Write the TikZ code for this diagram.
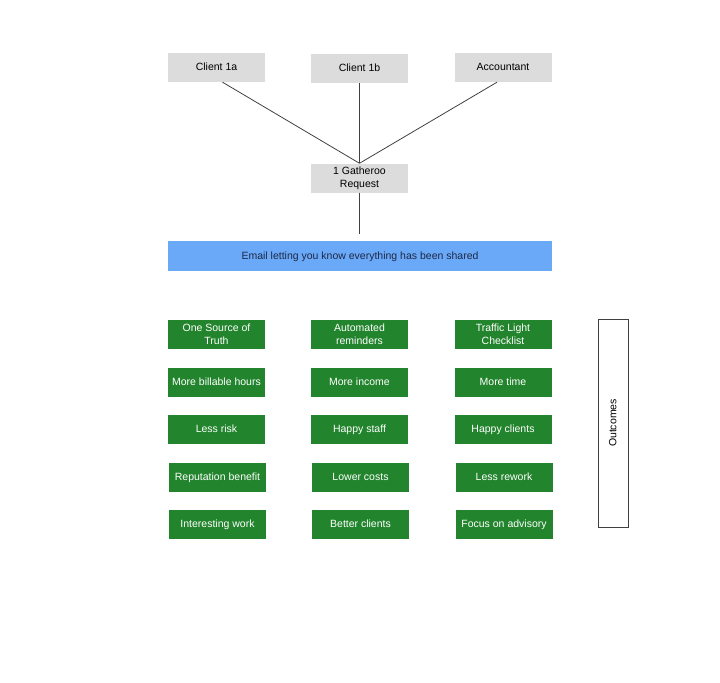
\documentclass[tikz,border=0pt]{standalone}
\usepackage{fontspec}
\setmainfont{Liberation Sans}
\usepackage{tikz}

\definecolor{boxgray}{RGB}{220,220,220}
\definecolor{mailblue}{RGB}{106,169,247}
\definecolor{goodgreen}{RGB}{34,132,44}
\definecolor{textnavy}{RGB}{30,40,70}

\begin{document}
\begin{tikzpicture}[x=1bp, y=-1bp,
    every node/.style={font=\fontsize{10.5bp}{13bp}\selectfont, inner sep=0pt,
        text height=8bp, text depth=1.5bp},
    twoline/.style={align=center, text height={}, text depth={}},
    party/.style={fill=boxgray, minimum width=97bp, minimum height=29bp},
    outcome/.style={fill=goodgreen, text=white, minimum width=97bp, minimum height=29bp},
    link/.style={draw=black!75, line width=0.8pt}]

    % Fix the page size
    \useasboundingbox (0,0) rectangle (720,683);

    % Parties at the top
    \node[party] (c1a) at (216.5,67.5) {Client 1a};
    \node[party] (c1b) at (359.5,68.5) {Client 1b};
    \node[party] (acct) at (503,67.5) {Accountant};

    % The single request
    \node[party, twoline] (req) at (359.5,178) {1 Gatheroo\\Request};

    % Connect parties to the request
    \draw[link] ([xshift=6bp]c1a.south) -- (req.north);
    \draw[link] (c1b.south) -- (req.north);
    \draw[link] ([xshift=-6bp]acct.south) -- (req.north);

    % Email bar
    \node[fill=mailblue, text=textnavy, minimum width=384bp, minimum height=30bp] (mail) at (360,256) {Email letting you know everything has been shared};
    \coordinate (mailtop) at (359.5,234);
    \draw[link] (req.south) -- (mailtop);

    % Outcome grid
    \node[outcome, twoline] (o11) at (216.5,334.5) {One Source of\\Truth};
    \node[outcome, twoline] (o12) at (359.5,334.5) {Automated\\reminders};
    \node[outcome, twoline] (o13) at (503,334.5) {Traffic Light\\Checklist};

    \node[outcome] (o21) at (216.5,382) {More billable hours};
    \node[outcome] (o22) at (359.5,382) {More income};
    \node[outcome] (o23) at (503,382) {More time};

    \node[outcome] (o31) at (216.5,429.5) {Less risk};
    \node[outcome] (o32) at (359.5,429.5) {Happy staff};
    \node[outcome] (o33) at (503,429.5) {Happy clients};

    \node[outcome] (o41) at (217.5,477) {Reputation benefit};
    \node[outcome] (o42) at (360.5,477) {Lower costs};
    \node[outcome] (o43) at (504,477) {Less rework};

    \node[outcome] (o51) at (217.5,524.5) {Interesting work};
    \node[outcome] (o52) at (360.5,524.5) {Better clients};
    \node[outcome] (o53) at (504,524.5) {Focus on advisory};

    % Side label
    \node[draw=black!75, line width=0.8pt, fill=white, rotate=90, minimum width=208bp, minimum height=30bp] (outc) at (613,423) {Outcomes};

\end{tikzpicture}
\end{document}
